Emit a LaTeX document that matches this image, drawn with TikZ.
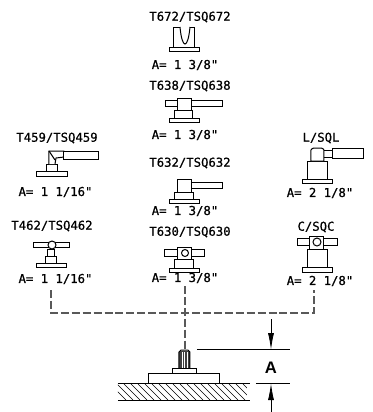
\documentclass[tikz,border=0pt]{standalone}
\usepackage{fontspec}
\setmainfont{DejaVu Sans Mono}
\newfontfamily\lblfont[RawFeature={embolden=0.7}]{DejaVu Sans Mono}
\newfontfamily\dimfont{Liberation Sans}
\usetikzlibrary{arrows.meta,patterns}
\tikzset{
  lbl/.style={font=\lblfont\fontsize{9.2pt}{10pt}\selectfont,inner sep=0pt,anchor=center,text=black},
  part/.style={draw=black,line width=0.75pt,fill=white},
  dashline/.style={draw=black!65,line width=0.8pt,dash pattern=on 6pt off 2.2pt},
  dimline/.style={draw=black,line width=0.6pt},
  dimarrow/.style={draw=black,line width=0.6pt,-{Latex[length=12.5pt,width=4.5pt]}},
  hatchline/.style={draw=black,line width=0.45pt}
}
\begin{document}
\begin{tikzpicture}[x=0.75pt,y=-0.75pt]
\useasboundingbox (0,0) rectangle (373,412);
\fill[white] (0,0) rectangle (373,412);
% T672
\node[lbl] (t672) at (190,17) {T672/TSQ672};
\draw[part] (174,27) rectangle (195,47);
\draw[part] (170,47) rectangle (199.5,51);
\draw[part] (180,27) .. controls (181,38) and (183,44) .. (185,44) .. controls (187,44) and (189,38) .. (190,27);
\node[lbl] (a672) at (185,65) {A= 1 3/8"};
% T638
\node[lbl] (t638) at (190,86) {T638/TSQ638};
\draw[part] (175,110) rectangle (193,118);
\draw[part] (166,100) rectangle (223,106);
\draw[part] (178,98) rectangle (192,110);
\draw[part] (170,118) rectangle (199.5,122);
\node[lbl] (a638) at (185,135) {A= 1 3/8"};
% T632
\node[lbl] (t632) at (190,163) {T632/TSQ632};
\draw[part] (175,192) rectangle (194,199);
\draw[part] (192,182) rectangle (223,188);
\draw[part] (178,179) rectangle (192,192);
\draw[part] (170,199) rectangle (199.5,203);
\node[lbl] (a632) at (185,211) {A= 1 3/8"};
% T630
\node[lbl] (t630) at (190,232) {T630/TSQ630};
\draw[part] (175,259) rectangle (194,268);
\draw[part] (165,249) rectangle (205,256);
\draw[part] (178,247) rectangle (192,259);
\draw[part] (185,253) circle (3.5);
\draw[part] (170,268) rectangle (199.5,272);
\node[lbl] (a630) at (185,278) {A= 1 3/8"};
% T459
\node[lbl] (t459) at (57,138) {T459/TSQ459};
\draw[part] (47,164) rectangle (58,171);
\draw[part] (49,164) -- (49,151) -- (64,151) -- (64,157) -- (56,158) -- (55,164);
\draw[part] (49,151) -- (55,160);
\draw[part] (64,151) rectangle (99,159);
\draw[part] (37,171) rectangle (68,176);
\node[lbl] (a459) at (55.5,192) {A= 1 1/16"};
% T462
\node[lbl] (t462) at (52,226) {T462/TSQ462};
\draw[part] (46,256) rectangle (57,263);
\draw[part] (48,249) rectangle (55,256);
\draw[part] (34,242) rectangle (70,247);
\draw[part] (52,245) circle (4);
\draw[part] (37,263) rectangle (67,267);
\node[lbl] (a462) at (55.5,279) {A= 1 1/16"};
% L
\node[lbl] (tl) at (321,138) {L/SQL};
\draw[part] (308,161) rectangle (328,179);
\draw[part] (303,179) rectangle (333,183);
\draw[part] (324,150) rectangle (333,157);
\draw[part] (333,148) rectangle (364,158);
\draw[part] (311,161) -- (311,150) to[out=60,in=180] (314,148) -- (321,148) to[out=0,in=120] (324,150) -- (324,161) -- cycle;
\node[lbl] (al) at (320,193) {A= 2 1/8"};
% C
\node[lbl] (tc) at (316,227) {C/SQC};
\draw[part] (308,249) rectangle (328,267);
\draw[part] (303,267) rectangle (333,272);
\draw[part] (298,238) rectangle (338,245);
\draw[part] (310,236) rectangle (324,249);
\draw[part] (317,242) circle (4);
\node[lbl] (ac) at (320,281) {A= 2 1/8"};
% Dashed connectors
\coordinate (dl) at (51,290);
\coordinate (dr) at (314,290);
\coordinate (dc) at (185,286);
\coordinate (stud) at (185,349);
\coordinate (jc) at (185,313);
\draw[dashline] (dl) -- (51,313) -- (314,313) -- (dr);
\draw[dashline] (dc) -- (jc) -- (stud);
% Fitting
\fill[black!75] (179,351) rectangle (190,368);
\draw[white,line width=0.3pt] (182,352)--(182,368) (184.5,352)--(184.5,368) (187,352)--(187,368);
\draw[part,fill=none] (179,368) -- (179,352) -- (181,350) -- (188,350) -- (190,352) -- (190,368);
\draw[part] (173,368) rectangle (197,373);
\draw[part] (149,373.5) rectangle (220,383.5);
% Ground
\draw[hatchline] (118,383.5) -- (250,383.5);
\draw[hatchline] (118,400) -- (250,400);
\begin{scope}
\clip (118,384) rectangle (247,400);
\foreach \i in {0,...,20} {
  \draw[hatchline] ({110+\i*7},384) -- ({126+\i*7},400);
}
\end{scope}
% Dimension
\coordinate (e1a) at (197,349.7);
\coordinate (e1b) at (290,349.7);
\coordinate (e2a) at (256,383.5);
\coordinate (e2b) at (290,383.5);
\coordinate (ar1s) at (271,319);
\coordinate (ar1e) at (271,349.7);
\coordinate (ar2s) at (271,412);
\coordinate (ar2e) at (271,383.5);
\draw[dimline] (e1a) -- (e1b);
\draw[dimline] (e2a) -- (e2b);
\draw[dimarrow] (ar1s) -- (ar1e);
\draw[dimarrow] (ar2s) -- (ar2e);
\node[inner sep=0pt,font=\dimfont\fontsize{12.5pt}{13pt}\selectfont\bfseries] (dima) at (271,367.5) {A};
\end{tikzpicture}
\end{document}
